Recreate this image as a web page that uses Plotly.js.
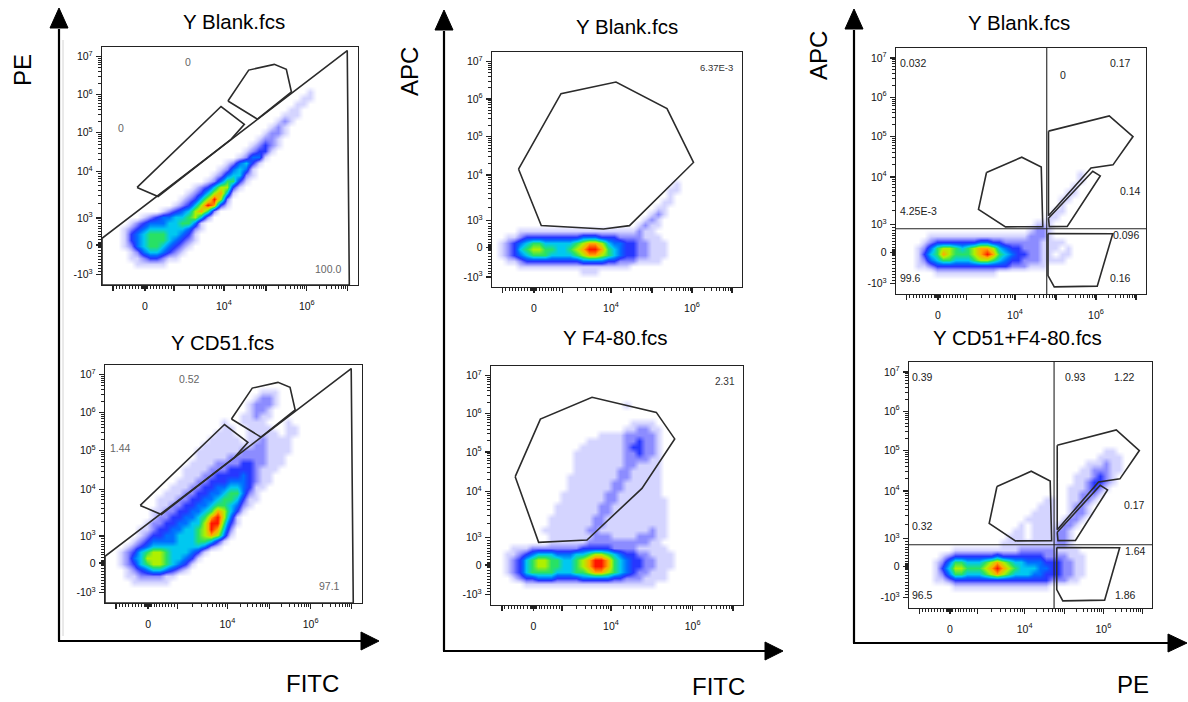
<!DOCTYPE html>
<html><head><meta charset="utf-8">
<script src="https://cdn.plot.ly/plotly-3.0.1.min.js"></script>
<style>html,body{margin:0;padding:0;background:#fff;}#chart{width:1188px;height:702px;}</style>
</head><body><div id="chart"></div>
<script>
// ---------- axis scale (biexponential display units, 0-100 across each plot frame) ----------
const tickValues    = [-1000, 0, 1000, 1e4, 1e5, 1e6, 1e7];
const tickPositions = [4.3, 16.8, 28.2, 47.6, 64.0, 80.0, 96.0];
const yTickLabels = ['-10<sup>3</sup>','0','10<sup>3</sup>','10<sup>4</sup>','10<sup>5</sup>','10<sup>6</sup>','10<sup>7</sup>'];
const xTickLabels = ['','0','','10<sup>4</sup>','','10<sup>6</sup>',''];

const panelTitles = ['Y Blank.fcs','Y CD51.fcs','Y Blank.fcs','Y F4-80.fcs','Y Blank.fcs','Y CD51+F4-80.fcs'];
const axisTitles = ['PE','APC','APC','FITC','FITC','PE'];

// ---------- density grids (40 x 40 cells, top row first, '.' = no events, 1..9 = density level) ----------
const densityP1 = [
'','','','','','','',
'.......... .......... .......... ..1.......',
'.......... .......... .......... .11.......',
'.......... .......... .......... 11........',
'.......... .......... .........1 1.........',
'.......... .......... ........11 1.........',
'.......... .......... .......121',
'.......... .......... ......121.',
'.......... .......... .....1221.',
'.......... .......... ....1221..',
'.......... .......... ...12321..',
'.......... .......... ..12331...',
'.......... .......... .12441....',
'.......... .........1 24531.....',
'.......... ........12 4541......',
'.......... .......124 5521......',
'.......... ......1246 631.......',
'.......... ....123577 31........',
'.......... ...1235785 1.........',
'.......... ..12357972',
'.......... .123579831',
'.........1 23457862..',
'......1234 4556752...',
'....123444 556641....',
'...1234555 555421....',
'...1345666 55431.....',
'...1345666 54321.....',
'...1245665 4321......',
'....124554 321.......',
'....112332 11........',
'.....11111',
'','',''
];
const densityP2 = [
'','','','',
'.......... .......... ....111...',
'.......... .......... ...1221...',
'.......... .......... ..12221...',
'.......... .......... ..1221....',
'.......... .......... .11211....',
'.......... ........1. .1111...1.',
'.......... ........11 ..1111..11',
'.......... .......111 ..11111.11',
'.......... ......1111 1.1121111.',
'.......... .....11111 111221111.',
'.......... ....111111 122221111.',
'.......... ....111112 22222111..',
'.......... ...1111222 23322111..',
'.......... ..11112223 3332111...',
'.......... ..11122333 343211....',
'.......... .111223334 443211....',
'.......... 1112233445 54311.....',
'.........1 1122334456 6421......',
'........11 1223344566 5311......',
'........11 2233445665 421.......',
'.......112 2334456875 31........',
'.......122 3344568974 1.........',
'......1223 3445579963 1.........',
'.....11233 4455679852',
'.....12334 4555678741',
'....123444 455566531.',
'...1234555 55555421..',
'..12356776 555431....',
'..12457776 55431.....',
'..12356776 5431......',
'...1234554 321.......',
'...1122221 1.........',
'....111111',
'','',''
];
const densityP3 = [
'','','','','','','','','','','','','','','','','','','','','','',
'.......... .......... .........1',
'.......... .......... ........11',
'.......... .......... ........1.',
'.......... .......... .......11.',
'.......... .......... ......11..',
'.......... .......... .....121..',
'.......... .......... ....121...',
'.......... .......... ...1211...',
'....111111 1111111111 111211....',
'..11233333 3333444333 2222111...',
'.123456655 5556788754 43322111..',
'.123567766 5567899865 43322111..',
'.123456665 5556788765 43322111..',
'..11233333 3333444433 2221111...',
'....111111 1111111111 11........',
'.......... ....111...',
'',''
];
const densityP4 = [
'','','','','','',
'.......... .......... .1........',
'','',
'.......... .......... ..1111....',
'.......... .......... .112211...',
'.......... .......111 1222221...',
'.......... .....11111 1223221...',
'.......... ....111111 1233221...',
'.......... ...1111111 1223221...',
'.......... ...1111111 1222211...',
'.......... ...1111111 1221111...',
'.......... ...1111111 2211111...',
'.......... ..11111111 2211111...',
'.......... ..11111112 2111111...',
'.......... ..11111112 2111111...',
'.......... .111111122 1111111...',
'.......... .111111122 11111111..',
'.......... 1111111221 11111111..',
'.......... 1111111221 11111111..',
'.........1 1111112211 11111111..',
'.........1 1111112211 11111111..',
'........11 1111122111 11111211..',
'.........1 1111112221 11122211..',
'.........1 1111122222 2222211...',
'...1112222 2222333332 22211111..',
'..11234555 4445567765 433221111.',
'..12356776 6556789986 543322111.',
'..12356776 6556789986 543322111.',
'..12356666 5556678876 54322111..',
'...1233444 3333444443 32221111..',
'.....11111 1111111111 111111....',
'','',''
];
const densityP5 = [
'','','','','','','','','','','','','','','','','','','','',
'.......... .......... .........1',
'.......... .......... .........1',
'.......... .......... ........1.',
'.......... .......... .......11.',
'.......... .......... ......11..',
'.......... .......... ......1...',
'.......... .......... .....11...',
'.......... .......... ....11....',
'.......... .......... ..111.....',
'.......... .......... .1221.....',
'.....11111 1111111111 12221.....',
'....123333 3334433222 2221111...',
'...1246776 5678875433 222111.1..',
'...1356876 6678986543 32211.11..',
'...1245665 5567765433 2221111...',
'...1123333 3333333322 2111......',
'......1111 111111....',
'','',''
];
const densityP6 = [
'','','','','','','','','','','','','','',
'.......... .......... .......... ..11......',
'.......... .......... .......... .1111.....',
'.......... .......... .........1 11211.....',
'.......... .......... ........11 22211.....',
'.......... .......... .......111 2321......',
'.......... .......... .......112 3321......',
'.......... .......... ......1112 321.......',
'.......... .......... ......1122 21........',
'.......... .......... ..11..1122 1.........',
'.......... .......... .111..1221',
'.......... .......... 1111..1221',
'.......... .........1 1111.1221.',
'.......... ........1. 11111221..',
'.......... .......11. 1111221...',
'.......... ......111. 1111221...',
'.......... .....11111 1111221...',
'.......111 1111111122 22221111..',
'.....12333 3333433333 332222111.',
'....124665 5567876554 443332211.',
'....135776 6678987655 544332211.',
'....124665 5567876555 443332211.',
'....112333 3333333333 33322211..',
'.......111 1111111111 111.......',
'','',''
];

// ---------- gates (display units) ----------
const gateDiagX = [0, 95.8, 96.6, 0];
const gateDiagY = [19.6, 98.5, 0, 0];
const gateAX = [49.2, 57.3, 67.3, 72.0, 74.0, 60.7];
const gateAY = [77.3, 90.3, 92.7, 90.6, 81.1, 69.7];
const gateBX = [13.7, 46.5, 55.6, 50.4, 21.9];
const gateBY = [41.0, 75.0, 67.5, 61.2, 37.2];
const gateApcBlankX = [10.6, 27.6, 49.6, 70.0, 80.6, 55.0, 44.6, 19.7];
const gateApcBlankY = [50.2, 82.3, 87.2, 75.9, 53.0, 26.1, 24.7, 26.2];
const gateApcF480X = [9.6, 19.6, 40.1, 65.6, 72.9, 59.9, 38.1, 18.9];
const gateApcF480Y = [53.7, 77.8, 86.9, 80.6, 69.5, 48.8, 27.2, 26.2];
const gateQ1X = [36.2, 50.3, 58.1, 58.7, 43.8, 33.0];
const gateQ1Y = [49.4, 55.6, 51.6, 27.4, 27.3, 34.4];
const gateQ2X = [61.0, 85.3, 94.8, 86.8, 78.0, 61.0];
const gateQ2Y = [66.2, 72.4, 64.0, 52.5, 51.2, 31.8];
const gateQ3X = [61.0, 78.7, 81.7, 68.5, 61.3];
const gateQ3Y = [30.8, 49.9, 48.0, 27.5, 27.4];
const gateQ4X = [60.8, 86.7, 80.5, 63.3, 60.8];
const gateQ4Y = [24.6, 24.5, 3.2, 2.9, 7.5];
const quadP5 = [60.3, 26.5];
const quadP6 = [59.7, 25.7];

// ---------- gate statistics ----------
const statsP1Text = ['0','0','100.0'];
const statsP1X = [33.7, 7.3, 88.4];
const statsP1Y = [93.8, 65.8, 6.6];
const statsP2Text = ['0.52','1.44','97.1'];
const statsP2X = [32.8, 6.1, 87.4];
const statsP2Y = [94.0, 65.0, 7.0];
const statsP3Text = ['6.37E-3'];
const statsP3X = [89.7];
const statsP3Y = [93.2];
const statsP4Text = ['2.31'];
const statsP4X = [93.0];
const statsP4Y = [93.7];
const statsP5Text = ['0.032','0','0.17','0.14','4.25E-3','0.096','99.6','0.16'];
const statsP5X = [6.8, 66.7, 89.6, 93.6, 9.0, 92.0, 5.7, 89.6];
const statsP5Y = [93.9, 88.9, 93.9, 41.9, 33.8, 23.8, 6.7, 6.7];
const statsP6Text = ['0.39','0.93','1.22','0.17','0.32','1.64','96.5','1.86'];
const statsP6X = [5.6, 68.4, 88.7, 92.8, 5.6, 93.4, 5.6, 89.0];
const statsP6Y = [93.9, 93.9, 93.9, 41.7, 33.2, 23.3, 5.4, 5.4];

// ---------- layout geometry ----------
const W = 1188, H = 702;
const FONT = 'Liberation Sans, Arial, Helvetica, sans-serif';
const panelBoxes = [[102,47,358,285],[105,365,362,603],[492,52,742,287],[491,366,743,605],[896,48,1146,294],[909,362,1152,608]];
const titlePos = [[234,21],[222,342],[627,27],[615,338],[1019,22],[1017,337]];
const axisTitlePos = [[22,70,-90],[410,72,-90],[818,56,-90],[312,683,0],[718,686,0],[1133,684,0]];

const densityColors = [
  [0,'rgba(0,0,255,0)'],[1/9,'rgba(0,0,255,0.17)'],[2/9,'rgba(0,0,255,0.45)'],[3/9,'rgba(0,20,255,0.85)'],
  [4/9,'rgb(0,110,255)'],[5/9,'rgb(0,200,240)'],[6/9,'rgb(40,225,100)'],[7/9,'rgb(175,240,0)'],
  [8/9,'rgb(255,170,0)'],[1,'rgb(255,20,0)']
];

function gridZ(rows){
  return rows.slice().reverse().map(r=>{
    const s=r.replace(/ /g,'').padEnd(40,'.');
    return s.split('').map(c=>c==='.'?0:+c);
  });
}
// minor tick positions from the same piecewise scale
function toDisplay(v){
  const P=tickPositions;
  if(v>=1000){const lg=Math.log10(v);const k=Math.min(Math.floor(lg),6);const i=k-1;return P[i]+(lg-k)*(P[i+1]-P[i]);}
  if(v>=0) return P[1]+(P[2]-P[1])*v/1000;
  return P[1]-(P[1]-P[0])*(-v)/1000;
}
const minorPositions=[];
for(let k=3;k<=6;k++) for(let m=2;m<=9;m++) minorPositions.push(toDisplay(m*Math.pow(10,k)));
[20,40,60,80,100,200,300,400,500,600,700,800,900].forEach(v=>{minorPositions.push(toDisplay(v));minorPositions.push(toDisplay(-v));});

const panels = [
  {grid:densityP1, gates:[[gateDiagX,gateDiagY],[gateAX,gateAY],[gateBX,gateBY]], stats:[statsP1Text,statsP1X,statsP1Y], sc:'#666', ss:10.5},
  {grid:densityP2, gates:[[gateDiagX,gateDiagY],[gateAX,gateAY],[gateBX,gateBY]], stats:[statsP2Text,statsP2X,statsP2Y], sc:'#666', ss:10.5},
  {grid:densityP3, gates:[[gateApcBlankX,gateApcBlankY]], stats:[statsP3Text,statsP3X,statsP3Y], sc:'#333', ss:9.5},
  {grid:densityP4, gates:[[gateApcF480X,gateApcF480Y]], stats:[statsP4Text,statsP4X,statsP4Y], sc:'#333', ss:10},
  {grid:densityP5, gates:[[gateQ1X,gateQ1Y],[gateQ2X,gateQ2Y],[gateQ3X,gateQ3Y],[gateQ4X,gateQ4Y]], quad:quadP5, stats:[statsP5Text,statsP5X,statsP5Y], sc:'#222', ss:10.5},
  {grid:densityP6, gates:[[gateQ1X,gateQ1Y],[gateQ2X,gateQ2Y],[gateQ3X,gateQ3Y],[gateQ4X,gateQ4Y]], quad:quadP6, stats:[statsP6Text,statsP6X,statsP6Y], sc:'#222', ss:10.5}
];

const traces=[], annotations=[], shapes=[];
const layout={width:W,height:H,margin:{l:0,r:0,t:0,b:0},paper_bgcolor:'#fff',plot_bgcolor:'#fff',showlegend:false,font:{family:FONT,color:'#111'}};

function axisBase(dom, anchor, ticktext, standoff){
  return {domain:dom, range:[0,100], anchor:anchor, showline:true, mirror:true, linecolor:'#222', linewidth:1.2,
    showgrid:false, zeroline:false, ticks:'outside', ticklen:5, tickwidth:1.4, tickcolor:'#222',
    tickmode:'array', tickvals:tickPositions, ticktext:ticktext, tickfont:{family:FONT,size:10.5,color:'#111'},
    ticklabelstandoff:standoff,
    minor:{tickmode:'array', tickvals:minorPositions, ticks:'outside', ticklen:2.5, tickwidth:1, tickcolor:'#222', showgrid:false},
    fixedrange:true};
}

panels.forEach((p,i)=>{
  const n=i===0?'':String(i+1);
  const xa='x'+n, ya='y'+n;
  const b=panelBoxes[i];
  layout['xaxis'+n]=axisBase([b[0]/W,b[2]/W], ya, xTickLabels, 6);
  layout['yaxis'+n]=axisBase([1-b[3]/H,1-b[1]/H], xa, yTickLabels, 1);
  traces.push({type:'heatmap', z:gridZ(p.grid), x0:1.25, dx:2.5, y0:1.25, dy:2.5, zmin:0, zmax:9,
    zsmooth:'best', colorscale:densityColors, showscale:false, hoverinfo:'skip', xaxis:xa, yaxis:ya});
  if(p.quad){
    traces.push({type:'scatter',mode:'lines',x:[p.quad[0],p.quad[0]],y:[0,100],line:{color:'#222',width:1.1},hoverinfo:'skip',xaxis:xa,yaxis:ya});
    traces.push({type:'scatter',mode:'lines',x:[0,100],y:[p.quad[1],p.quad[1]],line:{color:'#222',width:1.1},hoverinfo:'skip',xaxis:xa,yaxis:ya});
  }
  p.gates.forEach(g=>{
    traces.push({type:'scatter',mode:'lines',x:g[0].concat([g[0][0]]),y:g[1].concat([g[1][0]]),
      line:{color:'#2b2b2b',width:1.6},hoverinfo:'skip',xaxis:xa,yaxis:ya});
  });
  p.stats[0].forEach((t,j)=>{
    annotations.push({xref:xa,yref:ya,x:p.stats[1][j],y:p.stats[2][j],text:t,showarrow:false,
      xanchor:'center',yanchor:'middle',font:{family:FONT,size:p.ss,color:p.sc}});
  });
  annotations.push({xref:'paper',yref:'paper',x:titlePos[i][0]/W,y:1-titlePos[i][1]/H,text:panelTitles[i],showarrow:false,
    xanchor:'center',yanchor:'middle',font:{family:FONT,size:20.5,color:'#000'}});
});

axisTitles.forEach((t,i)=>{
  const q=axisTitlePos[i];
  annotations.push({xref:'paper',yref:'paper',x:q[0]/W,y:1-q[1]/H,text:t,textangle:q[2],showarrow:false,
    xanchor:'center',yanchor:'middle',font:{family:FONT,size:24,color:'#000'}});
});

// big axis arrows (pixel geometry)
function px(x){return x/W;} function py(y){return 1-y/H;}
function line(x0,y0,x1,y1,w,c){shapes.push({type:'line',xref:'paper',yref:'paper',x0:px(x0),y0:py(y0),x1:px(x1),y1:py(y1),line:{color:c||'#000',width:w||2}});}
function tri(a,b,c){shapes.push({type:'path',xref:'paper',yref:'paper',path:`M${px(a[0])},${py(a[1])} L${px(b[0])},${py(b[1])} L${px(c[0])},${py(c[1])} Z`,fillcolor:'#000',line:{color:'#000',width:1}});}
const arrows=[[59,641,27,361,379],[444,651,29,765,783],[854,643,28,1168,1187]];
arrows.forEach(a=>{
  const [x,y,top,hx,tip]=a;
  line(x,y,x,top+2,2.2);
  tri([x,top-19],[x-9,top+1],[x+9,top+1]);
  line(x-1,y,hx+1,y,2.2);
  tri([tip,y],[hx,y-9],[hx,y+9]);
});
line(63,40,63,636,1,'#d4d4d4');

layout.annotations=annotations; layout.shapes=shapes;
Plotly.newPlot('chart',traces,layout,{displayModeBar:false,staticPlot:true});
</script></body></html>
